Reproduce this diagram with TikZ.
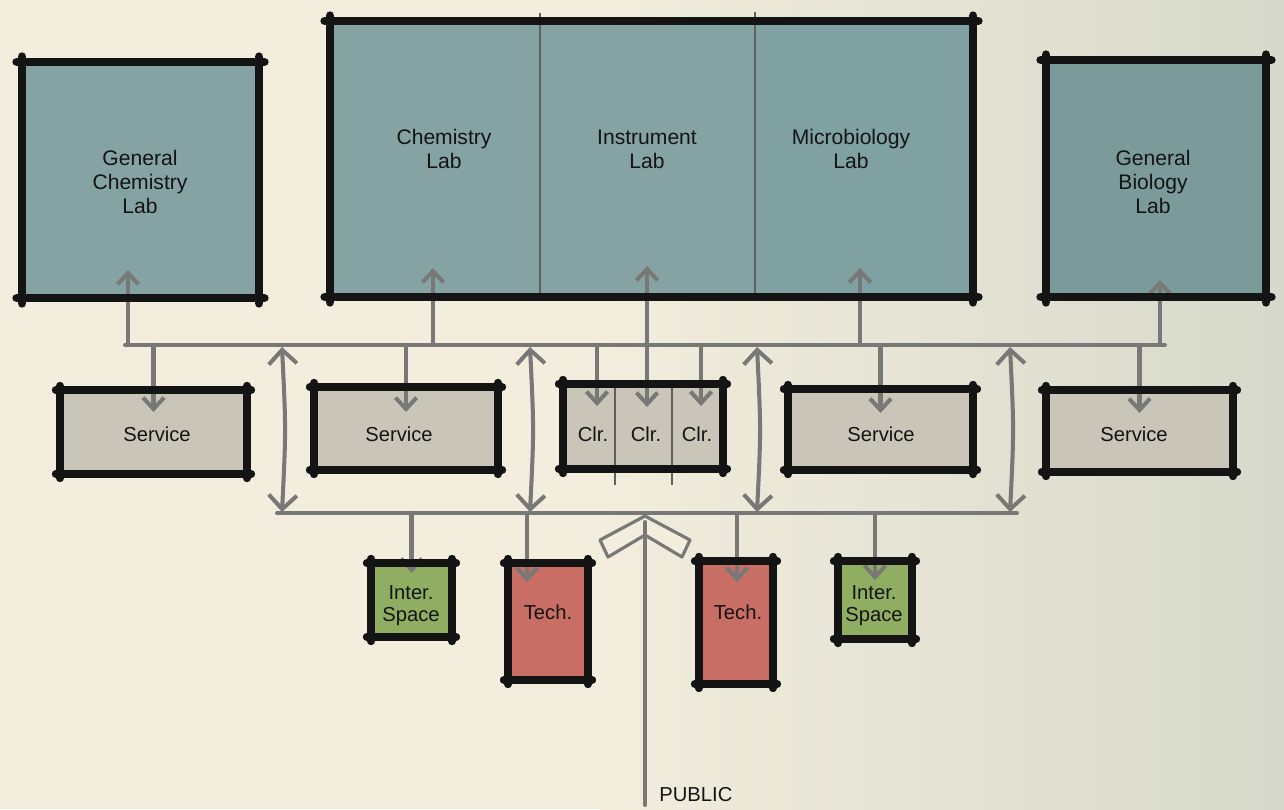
\documentclass[tikz,border=0pt]{standalone}
\usepackage{fontspec}
\setmainfont{Liberation Sans}
\usetikzlibrary{arrows.meta,fit,calc}
\definecolor{bgL}{HTML}{F2EDDD}
\definecolor{bgR}{HTML}{D6D9CB}
\definecolor{labc}{HTML}{86A3A4}
\definecolor{labd}{HTML}{7A9B99}
\definecolor{servc}{HTML}{C9C5B9}
\definecolor{greenc}{HTML}{8FAE62}
\definecolor{redc}{HTML}{C96E64}
\definecolor{ink}{HTML}{141414}
\definecolor{connc}{HTML}{787876}
\begin{document}
\begin{tikzpicture}[x=0.02cm,y=-0.02cm,
  room/.style={inner sep=0pt, outer sep=0pt, draw=none},
  edge/.style={draw=ink, line width=5pt, line cap=round, shorten <=-3pt, shorten >=-3pt},
  sedge/.style={draw=ink, line width=4.3pt, line cap=round, shorten <=-2.5pt, shorten >=-2.5pt},
  divider/.style={draw=connc!80!black, line width=1.6pt},
  conn/.style={draw=connc, line width=2.3pt, line cap=round},
  tip/.style={-{Straight Barb[length=6.5pt,width=12pt,line width=2.3pt]}},
  bigtip/.style={{Straight Barb[length=8pt,width=16pt,line width=2.3pt]}-{Straight Barb[length=8pt,width=16pt,line width=2.3pt]}},
  dtip/.style={{Straight Barb[length=6.5pt,width=12pt,line width=2.3pt]}-{Straight Barb[length=6.5pt,width=12pt,line width=2.3pt]}},
  lbl/.style={font=\fontsize{11.5}{13.5}\selectfont, align=center, text=ink, inner sep=0pt},
  biglbl/.style={font=\fontsize{12}{13.6}\selectfont, align=center, text=ink, inner sep=0pt}
]
\useasboundingbox (0,0) rectangle (1284,809);
\fill[bgL] (0,0) rectangle (1284,809);
\fill[left color=bgL, right color=bgR] (600,0) rectangle (1284,809);

% rooms (fills)
\node[room, fill=labc, fit={(22,62) (259,298)}] (gcl) {};
\node[room, fill=labc, fit={(330,21) (540,297)}] (chem) {};
\node[room, fill=labc, fit={(540,21) (755,297)}] (inst) {};
\node[room, fill=labc!95!teal, fit={(755,21) (973,297)}] (micro) {};
\node[room, fit={(330,21) (973,297)}] (big) {};
\node[room, fill=labd, fit={(1046,60) (1266,297)}] (gbl) {};

\node[room, fill=servc, fit={(60,390) (247,474)}] (s1) {};
\node[room, fill=servc, fit={(314,387) (498,470)}] (s2) {};
\node[room, fill=servc, fit={(563,384) (723,469)}] (clr) {};
\node[room, fit={(563,384) (615,469)}] (c1) {};
\node[room, fit={(615,384) (672,469)}] (c2) {};
\node[room, fit={(672,384) (723,469)}] (c3) {};
\node[room, fill=servc, fit={(788,389) (973,470)}] (s3) {};
\node[room, fill=servc, fit={(1046,390) (1233,472)}] (s4) {};

\node[room, fill=greenc, fit={(371,563) (452,637)}] (i1) {};
\node[room, fill=redc, fit={(508,563) (588,680)}] (t1) {};
\node[room, fill=redc, fit={(699,561) (773,684)}] (t2) {};
\node[room, fill=greenc, fit={(838,561) (912,639)}] (i2) {};

% dividers
\draw[divider] ($(chem.north east)+(0,-8)$) -- ($(chem.south east)+(0,3)$);
\draw[divider] ($(inst.north east)+(0,-9)$) -- ($(inst.south east)+(0,3)$);
\draw[divider] ($(c1.north east)+(0,-2)$) -- ($(c1.south east)+(0,16)$);
\draw[divider] ($(c2.north east)+(0,-2)$) -- ($(c2.south east)+(0,16)$);

% corridors
\coordinate (uL) at (125,345);
\coordinate (uR) at (1165,345);
\coordinate (lL) at (277,513);
\coordinate (lR) at (1017,513);
\draw[conn] (uL) -- (uR);
\draw[conn] (lL) -- (lR);

% up arrows into labs
\draw[conn,tip] (uL -| 128,0) -- (128,270);
\draw[conn,tip] (uL -| 433,0) -- (433,268);
\draw[conn,tip] (uL -| 860,0) -- (860,268);
\draw[conn,tip] (uL -| 1160,0) -- (1160,280);
\coordinate (c2in) at (647,407);
\draw[conn,dtip] (c2in) -- (647,266);

% down arrows into service rooms
\draw[conn,tip] (uL -| s1.north) -- ($(s1.north)+(0,22)$);
\draw[conn,tip] (uL -| s2.north) -- ($(s2.north)+(0,25)$);
\draw[conn,tip] (uL -| 597,0) -- (597,406);
\draw[conn,tip] (uL -| 701,0) -- (701,406);
\draw[conn,tip] (uL -| s3.north) -- ($(s3.north)+(0,24)$);
\draw[conn,tip] (uL -| s4.north) -- ($(s4.north)+(0,23)$);

% double arrows between corridors
\foreach \x in {282,530,757,1010}{
  \draw[conn,bigtip] (\x,512) .. controls (\x+4,430) .. (\x,347);
}

% down arrows to bottom rooms
\draw[conn,tip] (lL -| i1.north) -- ($(i1.north)+(0,10)$);
\draw[conn,tip] (lL -| 527,0) -- (527,582);
\draw[conn,tip] (lL -| 737,0) -- (737,582);
\draw[conn,tip] (lL -| i2.north) -- ($(i2.north)+(0,19)$);

% public entry
\coordinate (pub) at (645,805);
\coordinate (ptip) at (645,516);
\filldraw[draw=connc, fill=bgL, line width=1.8pt, line join=round]
  (ptip) -- (690,540) -- (682,557) -- (645,535) -- (608,557) -- (600,540) -- cycle;
\draw[conn] (pub) -- (645,522);
\node[lbl, anchor=west, font=\fontsize{11.5}{13}\selectfont] (publbl) at (659,795) {PUBLIC};

% outlines
\foreach \n in {gcl,big,gbl}{
  \draw[edge] (\n.north west) -- (\n.north east);
  \draw[edge] (\n.north east) -- (\n.south east);
  \draw[edge] (\n.south east) -- (\n.south west);
  \draw[edge] (\n.south west) -- (\n.north west);
}
\foreach \n in {s1,s2,clr,s3,s4,i1,t1,t2,i2}{
  \draw[sedge] (\n.north west) -- (\n.north east);
  \draw[sedge] (\n.north east) -- (\n.south east);
  \draw[sedge] (\n.south east) -- (\n.south west);
  \draw[sedge] (\n.south west) -- (\n.north west);
}

% labels
\node[biglbl] (tgcl) at (140,182) {General\\Chemistry\\Lab};
\node[biglbl] (tchem) at (444,149) {Chemistry\\Lab};
\node[biglbl] (tinst) at (647,149) {Instrument\\Lab};
\node[biglbl] (tmicro) at (851,149) {Microbiology\\Lab};
\node[biglbl] (tgbl) at (1153,182) {General\\Biology\\Lab};
\node[lbl] at (157,434) {Service};
\node[lbl] at (399,434) {Service};
\node[lbl] at (593,434) {Clr.};
\node[lbl] at (646,434) {Clr.};
\node[lbl] at (697,434) {Clr.};
\node[lbl] at (881,434) {Service};
\node[lbl] at (1134,434) {Service};
\node[lbl, font=\fontsize{11.5}{12.5}\selectfont] at (411,606) {Inter.\\Space};
\node[lbl, font=\fontsize{11.5}{12.5}\selectfont] at (874,606) {Inter.\\Space};
\node[lbl] at (548,612) {Tech.};
\node[lbl] at (738,612) {Tech.};
\end{tikzpicture}
\end{document}
